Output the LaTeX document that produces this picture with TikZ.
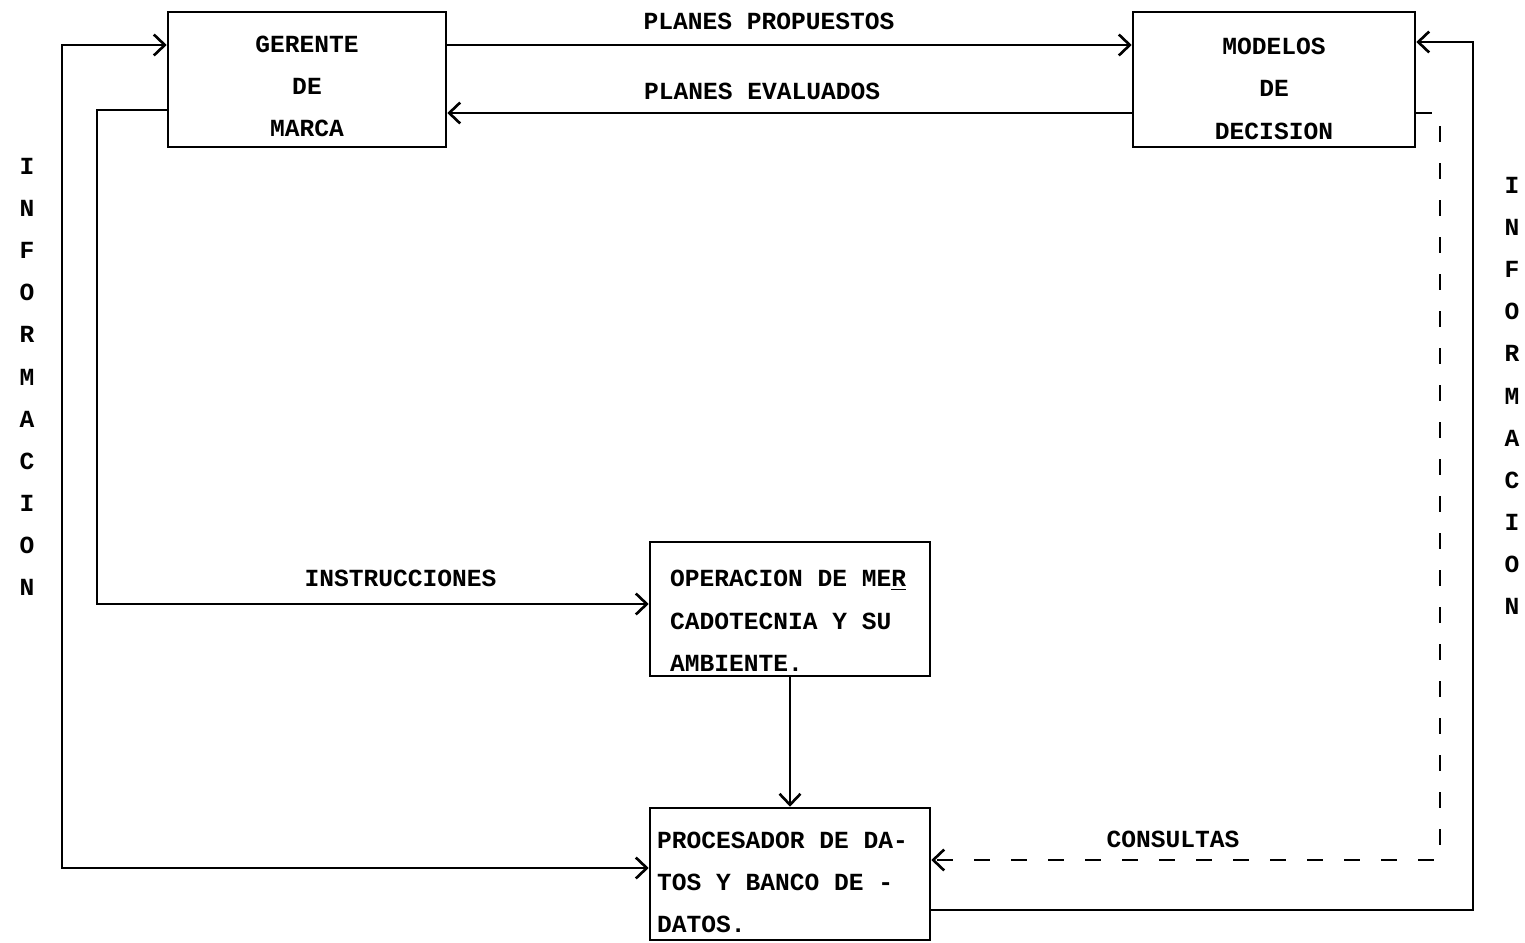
\documentclass[tikz,border=0pt]{standalone}
\usepackage{fontspec}
\setmonofont{Liberation Mono}[WordSpace={1,0,0}]
\usetikzlibrary{arrows.meta, positioning}
\newcommand{\bajar}[1]{\rule{0pt}{#1}}
\tikzset{
	caja/.style={rectangle, draw=black, line width=1.5pt, minimum width=5.6cm, minimum height=2.7cm, inner sep=0pt, font=\ttfamily\bfseries\fontsize{14}{24}\selectfont},
	cajaizq/.style={caja, align=flush left, inner xsep=#1, text width=5.6cm-2*#1},
	flecha/.style={-{Straight Barb[length=2.2mm, width=4.2mm, line width=1.5pt]}, line width=1.5pt},
	dobleflecha/.style={{Straight Barb[length=2.2mm, width=4.2mm, line width=1.5pt]}-{Straight Barb[length=2.2mm, width=4.2mm, line width=1.5pt]}, line width=1.5pt},
	punteada/.style={flecha, dash pattern=on 0.32cm off 0.42cm},
	rotulo/.style={font=\ttfamily\bfseries\fontsize{14}{24}\selectfont, inner sep=1pt},
	vertical/.style={rotulo, align=center},
}

\begin{document}
\begin{tikzpicture}[x=0.02cm, y=-0.02cm]
		\useasboundingbox (0,0) rectangle (1525,943);
		\node[caja, align=center, minimum width=5.56cm] (gerente) at (307,79.5) {\bajar{0.6cm}GERENTE\\DE\\MARCA};
		\node[caja, align=center, minimum width=5.64cm] (modelos) at (1274,79.5) {\bajar{0.7cm}MODELOS\\DE\\DECISION};
		\node[cajaizq=0.4cm, minimum height=2.68cm] (operacion) at (790,609) {\bajar{0.8cm}OPERACION DE ME\underline{R}\\CADOTECNIA Y SU\\AMBIENTE.};
		\node[cajaizq=0.14cm, minimum height=2.64cm] (procesador) at (790,874) {\bajar{0.66cm}PROCESADOR DE DA-\\TOS Y BANCO DE -\\DATOS.};
		\node[vertical] (infoizq) at (27,377) {I\\N\\F\\O\\R\\M\\A\\C\\I\\O\\N};
		\node[vertical] (infoder) at (1512,396) {I\\N\\F\\O\\R\\M\\A\\C\\I\\O\\N};
		\draw[flecha] (gerente.east |- 0,45) -- node[rotulo, above=7pt, pos=0.47] {PLANES PROPUESTOS} (modelos.west |- 0,45);
		\draw[flecha] (modelos.west |- 0,113) -- node[rotulo, above=6pt, pos=0.54] {PLANES EVALUADOS} (gerente.east |- 0,113);
		\draw[dobleflecha] (gerente.west |- 0,45) -| (62,868) -- (procesador.west |- 0,868);
		\draw[flecha] (gerente.west |- 0,110) -| (97,604) -- node[rotulo, above=8pt, pos=0.55] {INSTRUCCIONES} (operacion.west |- 0,604);
		\draw[flecha] (operacion) -- (procesador);
		\draw[flecha] (procesador.east |- 0,910) -| (1473,42) -- (modelos.east |- 0,42);
		\draw[punteada] (modelos.east |- 0,113) -| (1440,860) -- node[rotulo, above=5pt, pos=0.525] {CONSULTAS} (procesador.east |- 0,860);
	\end{tikzpicture}
\end{document}
